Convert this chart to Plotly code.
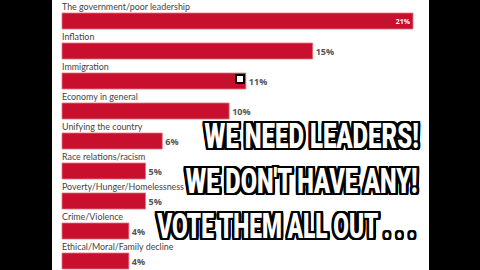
import plotly.graph_objects as go

categories = [
    "The government/poor leadership",
    "Inflation",
    "Immigration",
    "Economy in general",
    "Unifying the country",
    "Race relations/racism",
    "Poverty/Hunger/Homelessness",
    "Crime/Violence",
    "Ethical/Moral/Family decline",
]
values = [21, 15, 11, 10, 6, 5, 5, 4, 4]
value_labels = [f"{v}%" for v in values]
overlay_lines = ["WE NEED LEADERS!", "WE DON'T HAVE ANY!", "VOTE THEM ALL OUT . . ."]

RED = "#C8102E"
idx = list(range(len(categories)))

fig = go.Figure()
fig.add_trace(go.Bar(
    x=values, y=idx, orientation="h", width=0.533,
    marker=dict(color=RED, line=dict(color="#E9727F", width=0.8)),
    text=value_labels,
    textposition=["inside"] + ["outside"] * (len(values) - 1),
    insidetextanchor="end", textangle=0,
    insidetextfont=dict(color="white", size=9, family="Open Sans", weight="bold"),
    outsidetextfont=dict(color="#555555", size=9, family="Open Sans", weight="bold"),
    cliponaxis=False, hoverinfo="skip",
))

for i, c in enumerate(categories):
    fig.add_annotation(x=0, y=i - 0.47, text=c, showarrow=False, xanchor="left",
                       yanchor="middle", xshift=-2,
                       font=dict(size=8.9, color="#444444", family="Lato"))

stroke = ",".join(f"{dx}px {dy}px 0 #000" for dx in (-3, -2, -1, 0, 1, 2, 3) for dy in (-2, -1, 0, 1, 2))
ys = [0.494, 0.328, 0.16]
rights = [421, 420, 418]
for t, yy, r in zip(overlay_lines, ys, rights):
    fig.add_annotation(x=r / 480, y=yy, xref="paper", yref="paper", text=t, showarrow=False,
                       xanchor="right", yanchor="middle",
                       font=dict(size=35, color="white", weight=900,
                                 family="Roboto, sans-serif", shadow=stroke))

fig.add_shape(type="rect", xref="paper", yref="paper", x0=0, x1=52/480, y0=0, y1=1,
              fillcolor="black", line_width=0, layer="above")
fig.add_shape(type="rect", xref="paper", yref="paper", x0=429/480, x1=1, y0=0, y1=1,
              fillcolor="black", line_width=0, layer="above")
fig.add_shape(type="rect", xref="paper", yref="paper", x0=236/480, x1=244/480,
              y0=1 - 83/270, y1=1 - 75/270, fillcolor="white",
              line=dict(color="black", width=2), layer="above")

fig.update_layout(
    width=480, height=270, margin=dict(l=0, r=0, t=0, b=0),
    paper_bgcolor="white", plot_bgcolor="white", showlegend=False,
    xaxis=dict(range=[-62 / 16.714, 418 / 16.714], visible=False, fixedrange=True),
    yaxis=dict(range=[8.3, -0.7], visible=False, fixedrange=True),
)

post = """
var gd = document.getElementById('{plot_id}');
var scales = {'WE NEED': 0.685, 'WE DON': 0.675, 'VOTE': 0.65};
function squeeze(){
  gd.querySelectorAll('text.annotation-text').forEach(function(t){
    var s = t.textContent;
    Object.keys(scales).forEach(function(k){
      if (s.indexOf(k) === 0) {
        t.style.transformBox = 'fill-box';
        t.style.transformOrigin = 'right center';
        t.style.transform = 'scaleX(' + scales[k] + ')';
      }
    });
  });
}
squeeze();
gd.on('plotly_afterplot', squeeze);
"""
fig.write_html("out.html", config={"displayModeBar": False}, post_script=post)
